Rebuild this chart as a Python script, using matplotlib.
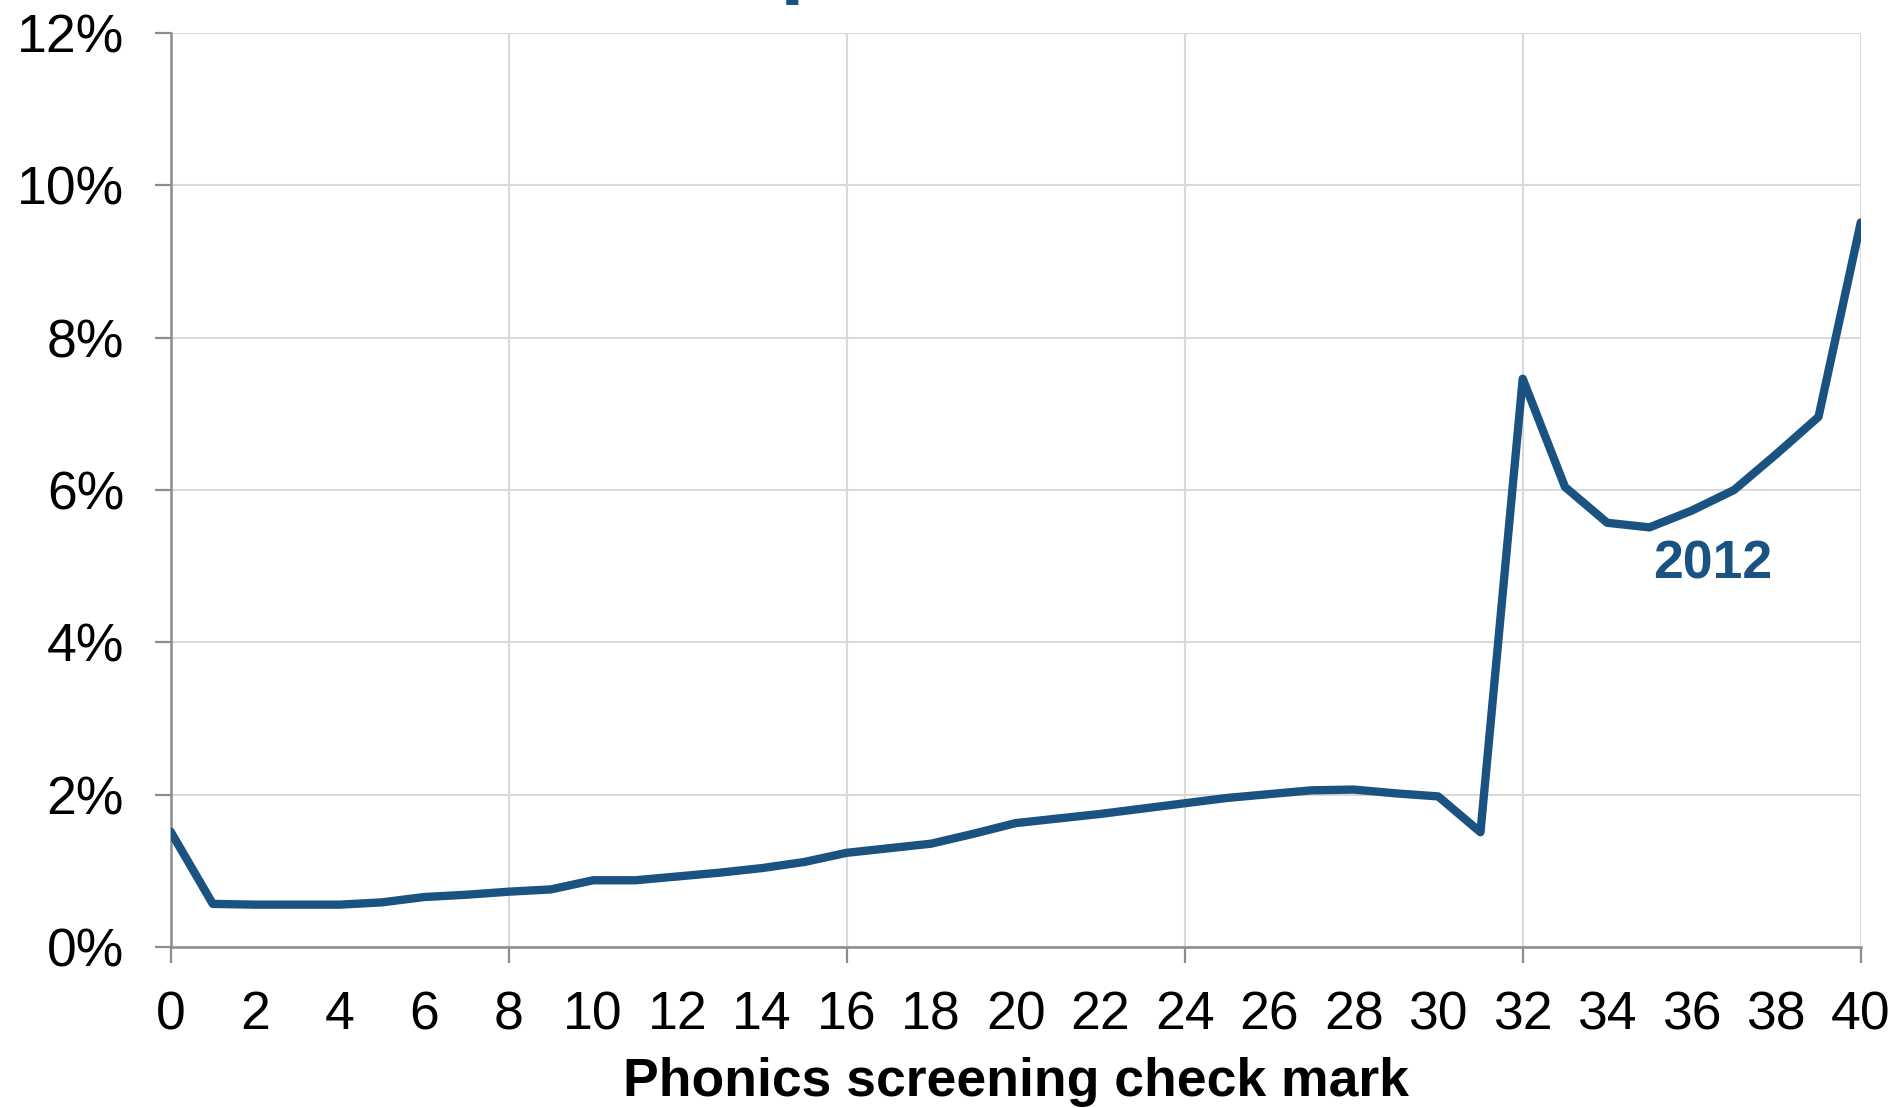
import matplotlib
matplotlib.use("Agg")
import matplotlib.pyplot as plt
from matplotlib.ticker import MultipleLocator, PercentFormatter, FixedLocator

# Share of pupils at each phonics screening check mark, 2012
marks = list(range(0, 41))
share_2012 = [
    1.52, 0.57, 0.56, 0.56, 0.56, 0.59, 0.66, 0.69, 0.73, 0.76,
    0.88, 0.88, 0.93, 0.98, 1.04, 1.12, 1.24, 1.30, 1.36, 1.49,
    1.63, 1.69, 1.75, 1.82, 1.89, 1.96, 2.01, 2.06, 2.07, 2.02,
    1.98, 1.51, 7.46, 6.04, 5.57, 5.51, 5.73, 6.00, 6.47, 6.96,
    9.51,
]
series_label = "2012"
x_label = "Phonics screening check mark"

LINE = "#1a5282"
GRID = "#d9d9d9"
SPINE = "#8c8c8c"
FS = 38.5

plt.rcParams["font.family"] = ["Liberation Sans", "DejaVu Sans"]

fig = plt.figure(figsize=(18.97, 11.08), dpi=100)
ax = fig.add_axes([0.0899, 0.1450, 0.9809 - 0.0899, 0.9705 - 0.1450])

ax.plot(marks, share_2012, color=LINE, lw=6.0,
        solid_joinstyle="round", solid_capstyle="round", zorder=3)

ax.set_xlim(0, 40)
ax.set_ylim(0, 12)

# x: gridlines/ticks every 8, labels every 2
ax.xaxis.set_major_locator(MultipleLocator(8))
ax.xaxis.set_minor_locator(FixedLocator([m for m in range(0, 41, 2) if m % 8]))
ax.xaxis.set_minor_formatter(plt.FuncFormatter(lambda v, p: f"{v:.0f}"))
ax.tick_params(axis="x", which="major", length=11.5, width=1.6, color=SPINE,
               pad=19.5, labelsize=FS)
ax.tick_params(axis="x", which="minor", length=0, pad=31, labelsize=FS)

ax.yaxis.set_major_locator(MultipleLocator(2))
ax.yaxis.set_major_formatter(PercentFormatter(decimals=0))
ax.tick_params(axis="y", which="major", length=11.5, width=1.6, color=SPINE,
               pad=22, labelsize=FS)

ax.grid(True, which="major", color=GRID, lw=1.5, zorder=0)
ax.set_axisbelow(True)

for side in ("top", "right"):
    ax.spines[side].set_visible(False)
for side in ("left", "bottom"):
    ax.spines[side].set_color(SPINE)
    ax.spines[side].set_linewidth(1.8)

ax.set_xlabel(x_label, fontsize=FS, fontweight="bold", labelpad=12)

ax.text(36.5, 4.84, series_label, color=LINE, fontsize=FS, fontweight="bold",
        ha="center", va="baseline")

# heading sits above the canvas; only its descender reaches into view
fig.text(0.4252, 1.0 + 14 / 1108, "p", color=LINE, fontsize=64,
         fontweight="bold", ha="center", va="baseline")

fig.savefig("out.png", dpi=100, facecolor="white")
